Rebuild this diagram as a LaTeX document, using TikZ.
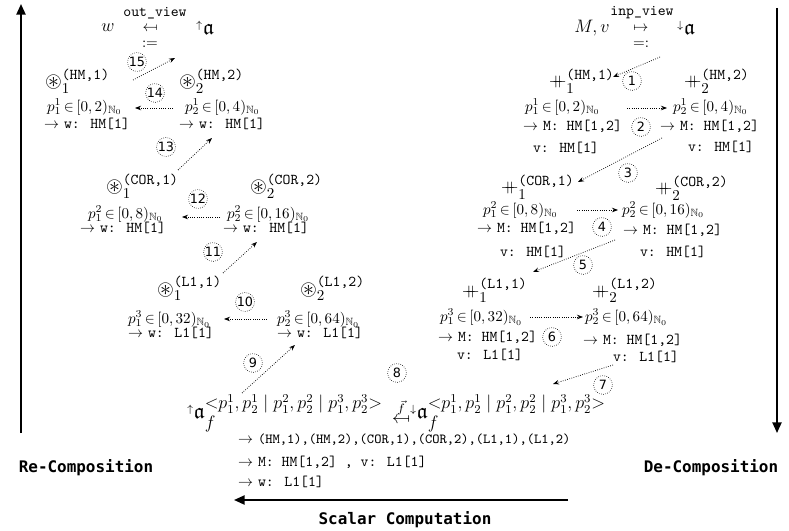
\documentclass[tikz,border=0pt]{standalone}
\usepackage{amsmath,amssymb}
\usepackage{graphicx}
\usepackage{fontspec}
\newfontfamily\lblfont{DejaVu Sans Mono}
\newfontfamily\numfont{DejaVu Sans}
\usetikzlibrary{arrows.meta}
\newcommand\mfrom{\reflectbox{$\mapsto$}}
\newcommand\opL[2]{${\hbox{\Large$\circledast$}}^{\hbox{\ttfamily(#1)}}_{\hbox{$#2$}}$}
\newcommand\opR[2]{${\hbox{\large$+\mkern-10mu+$}}^{\hbox{\ttfamily(#1)}}_{\hbox{$#2$}}$}
\newcommand\pin[3]{$p_{#1}^{#2}\mkern3mu{\in}\mkern3mu[0,#3)_{\mathbb{N}_0}$}
\newcommand\ttl[1]{$\rightarrow$ \texttt{#1}}
\newcommand\mysup{\hbox{\large$\mathord{<}p_1^1,p_2^1 \mid p_1^2,p_2^2 \mid p_1^3,p_2^3\mathord{>}$}}
\newcommand\bigfrak{\hbox{\Large$\mathfrak{a}$}}
\begin{document}
\begin{tikzpicture}[x=0.665pt,y=-0.665pt,
  every node/.style={inner sep=0pt, outer sep=0pt},
  tx/.style={anchor=west},
  op/.style={anchor=base west},
  num/.style={circle, draw, densely dotted, minimum size=12.5pt, inner sep=0pt, font=\numfont\fontsize{8.5}{9}\selectfont},
  flow/.style={densely dotted, line width=0.5pt, -{Stealth[length=4pt,width=3pt]}},
  big/.style={line width=1.2pt, -{Triangle[length=7pt,width=6pt]}},
  lbl/.style={font=\lblfont\bfseries\fontsize{10.6}{12}\selectfont}
]
\useasboundingbox (0,0) rectangle (789,531);

% ---- big arrows and labels
\coordinate (RCb) at (21,433);
\coordinate (RCt) at (21,4);
\coordinate (DCt) at (777,8);
\coordinate (DCb) at (777,433);
\coordinate (SCr) at (568,500);
\coordinate (SCl) at (234,500);
\draw[big] (RCb) -- (RCt);
\draw[big] (DCt) -- (DCb);
\draw[big] (SCr) -- (SCl);
\node[lbl] (recomp) at (86,468) {Re-Composition};
\node[lbl] (decomp) at (711,468) {De-Composition};
\node[lbl] (scalar) at (405,520) {Scalar Computation};

% ---- top formulas
\node (w) at (108,28) {\large $w$};
\node (outv) at (155,13) {\texttt{out\_view}};
\node (outarr) at (150,29) {$\mfrom$};
\node (outdef) at (150,44) {$:=$};
\node (upa) at (205,28) {${}^{\uparrow}\bigfrak$};

\node (Mv) at (592,28) {\large $M,v$};
\node (inpv) at (642,13) {\texttt{inp\_view}};
\node (inparr) at (641,29) {$\mapsto$};
\node (inpdef) at (641,44) {$=:$};
\node (dna) at (686,28) {${}^{\downarrow}\bigfrak$};

% ---- left column (re-composition)
\node[op] (LH1) at (45,88) {\opL{HM,1}{1}};
\node[tx] (LH1p) at (47,107) {\pin{1}{1}{2}};
\node[tx] (LH1w) at (44,124) {\ttl{w: HM[1]}};
\node[op] (LH2) at (179,88) {\opL{HM,2}{2}};
\node[tx] (LH2p) at (185,107) {\pin{2}{1}{4}};
\node[tx] (LH2w) at (179,124) {\ttl{w: HM[1]}};

\node[op] (LC1) at (106,193) {\opL{COR,1}{1}};
\node[tx] (LC1p) at (88,214) {\pin{1}{2}{8}};
\node[tx] (LC1w) at (80,228) {\ttl{w: HM[1]}};
\node[op] (LC2) at (250,193) {\opL{COR,2}{2}};
\node[tx] (LC2p) at (227,214) {\pin{2}{2}{16}};
\node[tx] (LC2w) at (223,228) {\ttl{w: HM[1]}};

\node[op] (LL1) at (157,295) {\opL{L1,1}{1}};
\node[tx] (LL1p) at (128,319) {\pin{1}{3}{32}};
\node[tx] (LL1w) at (128,333) {\ttl{w: L1[1]}};
\node[op] (LL2) at (300,295) {\opL{L1,2}{2}};
\node[tx] (LL2p) at (277,319) {\pin{2}{3}{64}};
\node[tx] (LL2w) at (277,333) {\ttl{w: L1[1]}};

% ---- right column (de-composition)
\node[op] (RH1) at (549,87) {\opR{HM,1}{1}};
\node[tx] (RH1p) at (525,107) {\pin{1}{1}{2}};
\node[tx] (RH1m) at (523,126) {\ttl{M: HM[1,2]}};
\node[tx] (RH1v) at (533,148) {\texttt{v: HM[1]}};
\node[op] (RH2) at (684,87) {\opR{HM,2}{2}};
\node[tx] (RH2p) at (673,107) {\pin{2}{1}{4}};
\node[tx] (RH2m) at (660,126) {\ttl{M: HM[1,2]}};
\node[tx] (RH2v) at (688,147) {\texttt{v: HM[1]}};

\node[op] (RC1) at (501,193) {\opR{COR,1}{1}};
\node[tx] (RC1p) at (483,210) {\pin{1}{2}{8}};
\node[tx] (RC1m) at (477,228) {\ttl{M: HM[1,2]}};
\node[tx] (RC1v) at (500,252) {\texttt{v: HM[1]}};
\node[op] (RC2) at (655,194) {\opR{COR,2}{2}};
\node[tx] (RC2p) at (622,210) {\pin{2}{2}{16}};
\node[tx] (RC2m) at (623,230) {\ttl{M: HM[1,2]}};
\node[tx] (RC2v) at (640,252) {\texttt{v: HM[1]}};

\node[op] (RL1) at (462,296) {\opR{L1,1}{1}};
\node[tx] (RL1p) at (440,317) {\pin{1}{3}{32}};
\node[tx] (RL1m) at (438,337) {\ttl{M: HM[1,2]}};
\node[tx] (RL1v) at (457,355) {\texttt{v: L1[1]}};
\node[op] (RL2) at (592,296) {\opR{L1,2}{2}};
\node[tx] (RL2p) at (585,317) {\pin{2}{3}{64}};
\node[tx] (RL2m) at (583,340) {\ttl{M: HM[1,2]}};
\node[tx] (RL2v) at (613,357) {\texttt{v: L1[1]}};

% ---- bottom (scalar computation)
\node[tx] (upaf) at (187,413) {$^{\uparrow}\bigfrak_{\hbox{\large$f$}}^{\mysup}$};
\node (fmap) at (401,411) {\large$\overset{\vec{f}}{\mfrom}$};
\node[tx] (dnaf) at (410,413) {$^{\downarrow}\bigfrak_{\hbox{\large$f$}}^{\mysup}$};
\node[tx] (s1) at (238,440) {\ttl{\fontsize{9.2}{11}\selectfont(HM,1),(HM,2),(COR,1),(COR,2),(L1,1),(L1,2)}};
\node[tx] (s2) at (238,462) {\ttl{M: HM[1,2] , v: L1[1]}};
\node[tx] (s3) at (238,482) {\ttl{w: L1[1]}};

% ---- numbered steps
\node[num] (n1) at (632,81) {1};
\node[num] (n2) at (641,127) {2};
\node[num] (n3) at (628,173) {3};
\node[num] (n4) at (602,227) {4};
\node[num] (n5) at (583,265) {5};
\node[num] (n6) at (552,337) {6};
\node[num] (n7) at (603,385) {7};
\node[num] (n8) at (397,373) {8};
\node[num] (n9) at (253,363) {9};
\node[num] (n10) at (245,302) {10};
\node[num] (n11) at (213,252) {11};
\node[num] (n12) at (198,199) {12};
\node[num] (n13) at (166,147) {13};
\node[num] (n14) at (155,93) {14};
\node[num] (n15) at (137,62) {15};

% ---- step arrows
\coordinate (a1s) at (660,57);  \coordinate (a1e) at (613,77);
\coordinate (a2s) at (627,108); \coordinate (a2e) at (667,108);
\coordinate (a3s) at (662,138); \coordinate (a3e) at (578,182);
\coordinate (a4s) at (577,210); \coordinate (a4e) at (618,210);
\coordinate (a5s) at (615,240); \coordinate (a5e) at (533,272);
\coordinate (a6s) at (530,317); \coordinate (a6e) at (583,317);
\coordinate (a7s) at (613,365); \coordinate (a7e) at (553,384);
\coordinate (a9s) at (242,393); \coordinate (a9e) at (295,345);
\coordinate (a10s) at (267,319); \coordinate (a10e) at (224,319);
\coordinate (a11s) at (223,273); \coordinate (a11e) at (257,242);
\coordinate (a12s) at (220,217); \coordinate (a12e) at (182,217);
\coordinate (a13s) at (178,170); \coordinate (a13e) at (212,138);
\coordinate (a14s) at (173,108); \coordinate (a14e) at (135,108);
\coordinate (a15s) at (133,80);  \coordinate (a15e) at (175,58);
\foreach \k in {1,2,3,4,5,6,7,9,10,11,12,13,14,15}
  \draw[flow] (a\k s) -- (a\k e);
\end{tikzpicture}
\end{document}
